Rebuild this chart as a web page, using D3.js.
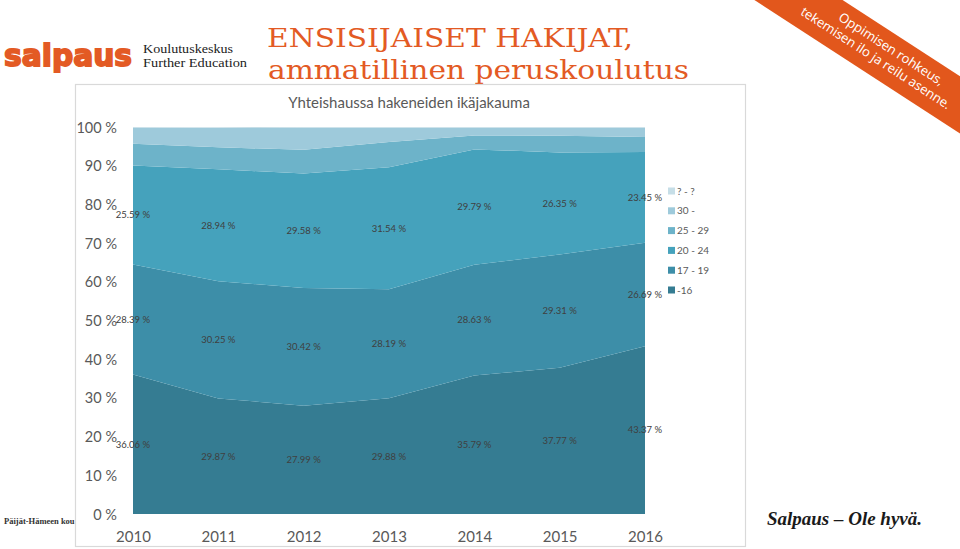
<!DOCTYPE html>
<html><head><meta charset="utf-8">
<script src="https://cdn.jsdelivr.net/npm/d3@7"></script>
<style>html,body{margin:0;padding:0;background:#fff;overflow:hidden}</style>
</head><body>
<svg id="c" width="960" height="549"></svg>
<script>
const years = ["2010","2011","2012","2013","2014","2015","2016"];
const seriesNames = ["-16","17 - 19","20 - 24","25 - 29","30 -","? - ?"];
const s16   = [36.06, 29.87, 27.99, 29.88, 35.79, 37.77, 43.37];
const s1719 = [28.39, 30.25, 30.42, 28.19, 28.63, 29.31, 26.69];
const s2024 = [25.59, 28.94, 29.58, 31.54, 29.79, 26.35, 23.45];
const s2529 = [5.6, 5.7, 6.1, 6.5, 3.6, 4.3, 3.9];
const s30   = [4.2, 5.0, 5.7, 3.7, 2.0, 2.1, 2.4];
const sUnk  = [0.2, 0.2, 0.2, 0.2, 0.2, 0.2, 0.2];
const yTicks = [0,10,20,30,40,50,60,70,80,90,100];
const colors = ["#357c92","#3d8ea8","#45a2bc","#6db3c9","#9ecadb","#c6dee7"];
const labeledSeries = [0,1,2];

const svg = d3.select("#c");
const orange = "#e35a24";

// Logo
svg.append("text").attr("x",4).attr("y",66).attr("font-family","DejaVu Sans").attr("font-weight","bold")
  .attr("font-size",31).attr("fill",orange).attr("stroke",orange).attr("stroke-width",1.8)
  .attr("textLength",128).attr("lengthAdjust","spacingAndGlyphs").text("salpaus");
svg.append("text").attr("x",143).attr("y",53).attr("font-family","Liberation Serif").attr("font-size",13.5)
  .attr("fill","#222").attr("textLength",90).attr("lengthAdjust","spacingAndGlyphs").text("Koulutuskeskus");
svg.append("text").attr("x",143).attr("y",67).attr("font-family","Liberation Serif").attr("font-size",13.5)
  .attr("fill","#222").attr("textLength",104).attr("lengthAdjust","spacingAndGlyphs").text("Further Education");

// Title
svg.append("text").attr("x",267).attr("y",47).attr("font-family","DejaVu Serif").attr("font-size",26)
  .attr("fill",orange).attr("textLength",366).attr("lengthAdjust","spacingAndGlyphs").text("ENSISIJAISET HAKIJAT,");
svg.append("text").attr("x",268).attr("y",79).attr("font-family","DejaVu Serif").attr("font-size",26)
  .attr("fill",orange).attr("textLength",421).attr("lengthAdjust","spacingAndGlyphs").text("ammatillinen peruskoulutus");

// Banner
const b = svg.append("g").attr("transform","translate(885,55) rotate(33)");
b.append("rect").attr("x",-250).attr("y",-23).attr("width",500).attr("height",48).attr("fill","#e2571c");
b.append("text").attr("x",2).attr("y",-4).attr("text-anchor","middle").attr("font-family","Open Sans")
  .attr("font-size",13).attr("fill","#fff").text("Oppimisen rohkeus,");
b.append("text").attr("x",-6).attr("y",12).attr("text-anchor","middle").attr("font-family","Open Sans")
  .attr("font-size",13).attr("fill","#fff").text("tekemisen ilo ja reilu asenne.");

// Footer texts
svg.append("text").attr("x",4).attr("y",524).attr("font-family","Liberation Serif").attr("font-weight","bold")
  .attr("font-size",8.5).attr("fill","#333").text("Päijät-Hämeen kou");
svg.append("text").attr("x",767).attr("y",525).attr("font-family","Liberation Serif").attr("font-style","italic")
  .attr("font-weight","bold").attr("font-size",19).attr("fill","#1a1a1a")
  .attr("textLength",155).attr("lengthAdjust","spacingAndGlyphs").text("Salpaus – Ole hyvä.");

// Chart frame
svg.append("rect").attr("x",75.5).attr("y",84.5).attr("width",670).attr("height",462)
  .attr("fill","#fff").attr("stroke","#d9d9d9").attr("stroke-width",1.2);

svg.append("text").attr("x",409).attr("y",108).attr("text-anchor","middle").attr("font-family","Lato")
  .attr("font-size",15).attr("fill","#595959").text("Yhteishaussa hakeneiden ikäjakauma");

const x = d3.scalePoint().domain(years).range([133,645]);
const y = d3.scaleLinear().domain([0,100]).range([514,127]);

const seriesArr = [s16,s1719,s2024,s2529,s30,sUnk];
const table = years.map((yr,i)=>{ const o={year:yr}; seriesNames.forEach((n,k)=>o[n]=seriesArr[k][i]); return o; });
const stacked = d3.stack().keys(seriesNames)(table);

const area = d3.area().x(d=>x(d.data.year)).y0(d=>y(d[0])).y1(d=>y(Math.min(d[1],100)));
svg.append("g").selectAll("path").data(stacked).join("path")
  .attr("d",area).attr("fill",(d,i)=>colors[i]);

// Axes
const yAxis = d3.axisLeft(y).tickValues(yTicks).tickFormat(d=>d+" %").tickSize(0).tickPadding(0);
const ya = svg.append("g").attr("transform","translate(117,0)").call(yAxis);
ya.select(".domain").remove();
ya.selectAll("text").attr("font-family","Lato").attr("font-size",14.5).attr("fill","#595959").attr("dy","0.35em");

const xAxis = d3.axisBottom(x).tickSize(0).tickPadding(0);
const xa = svg.append("g").attr("transform","translate(0,530)").call(xAxis);
xa.select(".domain").remove();
xa.selectAll("text").attr("font-family","Lato").attr("font-size",15).attr("fill","#595959").attr("dy","0.8em");

// Data labels
const lg = svg.append("g");
labeledSeries.forEach(k=>{
  stacked[k].forEach(d=>{
    lg.append("text").attr("x",x(d.data.year)).attr("y",y((d[0]+d[1])/2)).attr("dy","0.35em")
      .attr("text-anchor","middle").attr("font-family","Lato").attr("font-size",9.5).attr("fill","#404040")
      .text(d3.format(".2f")(d[1]-d[0])+" %");
  });
});

// Legend
const legendOrder = seriesNames.map((n,i)=>i).reverse();
const leg = svg.append("g").attr("transform","translate(668,191)");
legendOrder.forEach((k,j)=>{
  const g = leg.append("g").attr("transform",`translate(0,${j*19.8})`);
  g.append("rect").attr("x",0).attr("y",-3.5).attr("width",7).attr("height",7).attr("fill",colors[k]);
  g.append("text").attr("x",9).attr("y",0).attr("dy","0.35em").attr("font-family","Lato").attr("font-size",10)
    .attr("fill","#595959").text(seriesNames[k]);
});
</script>
</body></html>
